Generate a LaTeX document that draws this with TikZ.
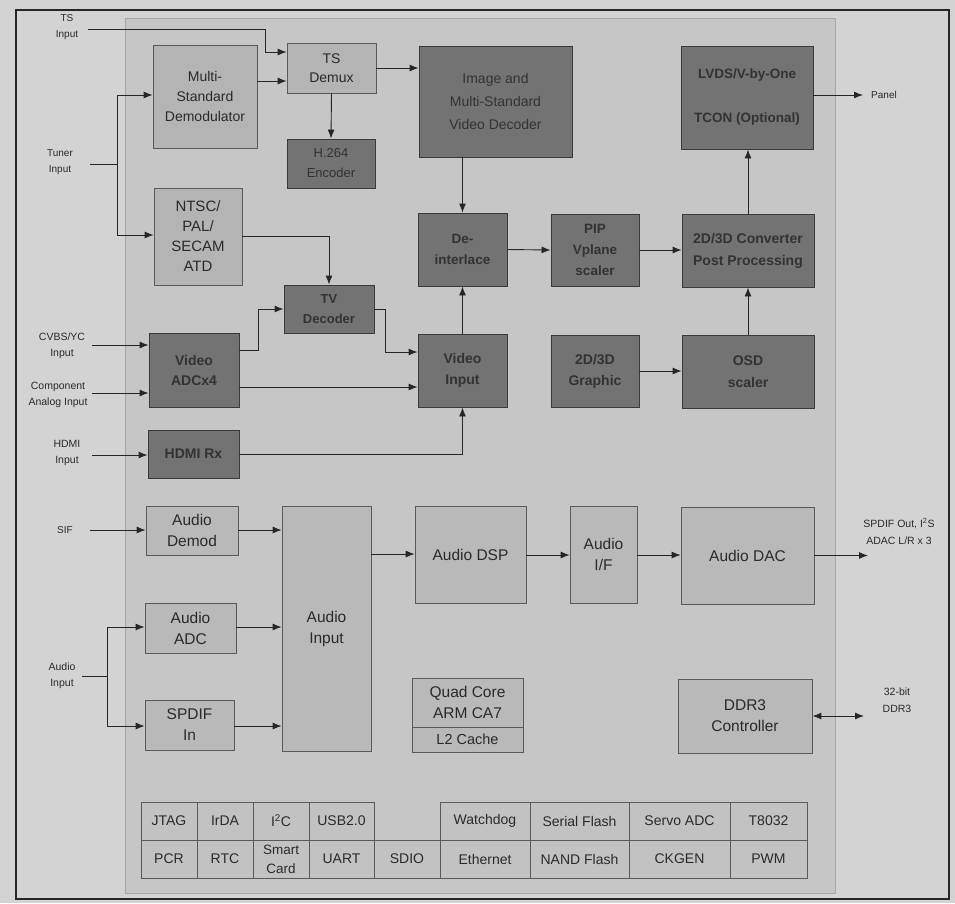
\documentclass[tikz,border=0pt]{standalone}
\usepackage{fontspec}
\setmainfont{Liberation Sans}
\usetikzlibrary{arrows.meta}
\definecolor{bgc}{HTML}{D3D3D3}
\definecolor{panelc}{HTML}{C7C6C7}
\definecolor{lightc}{HTML}{B4B4B4}
\definecolor{audc}{HTML}{B9B9B9}
\definecolor{cellc}{HTML}{C2C2C2}
\definecolor{darkc}{HTML}{737373}
\definecolor{darkedge}{HTML}{3A3A3A}
\definecolor{edgec}{HTML}{5A5A5A}
\definecolor{darktxt}{HTML}{333333}
\definecolor{txtc}{HTML}{2A2A2A}
\definecolor{linec}{HTML}{262626}
\begin{document}
\begin{tikzpicture}[x=1pt,y=-1pt,
  lbox/.style={draw=edgec, line width=0.8pt, fill=lightc, text=txtc, align=center, inner sep=1pt, font=\fontsize{14}{20}\selectfont},
  dbox/.style={draw=darkedge, line width=0.9pt, fill=darkc, text=darktxt, align=center, inner sep=1pt, font=\bfseries\fontsize{13.5}{21}\selectfont},
  abox/.style={lbox, fill=audc, font=\fontsize{15.5}{21}\selectfont},
  cell/.style={draw=edgec, line width=0.7pt, fill=cellc, text=txtc, align=center, inner sep=0pt, minimum height=38pt, font=\fontsize{14}{18}\selectfont},
  lbl/.style={align=center, text=txtc, inner sep=0pt, font=\fontsize{10}{16}\selectfont},
  arr/.style={-{Latex[length=9pt,width=7pt]}, line width=0.9pt, draw=linec},
  darr/.style={{Latex[length=9pt,width=7pt]}-{Latex[length=9pt,width=7pt]}, line width=0.9pt, draw=linec},
  ln/.style={line width=0.9pt, draw=linec}]
\useasboundingbox (0,0) rectangle (955,903);
\fill[bgc] (0,0) rectangle (955,903);
\draw[line width=1.1pt, draw=linec] (16,10) rectangle (949,899);
\draw[fill=panelc, draw=gray!70, line width=0.5pt] (125,18) rectangle (835,893);

% video section
\node[lbox, minimum width=104pt, minimum height=103pt] (demod) at (205,96.5) {Multi-\\Standard\\Demodulator};
\node[lbox, minimum width=89pt, minimum height=50pt, font=\fontsize{14}{19}\selectfont] (tsdemux) at (331.5,68) {TS\\Demux};
\node[dbox, minimum width=88pt, minimum height=49pt, font=\fontsize{13}{20}\selectfont] (h264) at (331,163.5) {H.264\\Encoder};
\node[dbox, minimum width=153pt, minimum height=111pt, font=\fontsize{14}{23}\selectfont] (vdec) at (495.5,101.5) {Image and\\Multi-Standard\\Video Decoder};
\node[dbox, minimum width=132pt, minimum height=103pt] (tcon) at (747,97.5) {LVDS/V-by-One\\[23pt]TCON (Optional)};
\node[lbox, minimum width=88pt, minimum height=97pt, font=\fontsize{15}{20}\selectfont] (ntsc) at (198,236.5) {NTSC/\\PAL/\\SECAM\\ATD};
\node[dbox, minimum width=89pt, minimum height=73pt] (deint) at (462.5,249.5) {De-\\interlace};
\node[dbox, minimum width=88pt, minimum height=72pt] (pip) at (595,250) {PIP\\Vplane\\scaler};
\node[dbox, minimum width=132pt, minimum height=73pt, font=\bfseries\fontsize{14}{22}\selectfont] (conv) at (748,250.5) {2D/3D Converter\\Post Processing};
\node[dbox, minimum width=90pt, minimum height=48pt, font=\bfseries\fontsize{13}{20}\selectfont] (tvdec) at (329,309) {TV\\Decoder};
\node[dbox, minimum width=90pt, minimum height=74pt, font=\bfseries\fontsize{14}{20}\selectfont] (vadc) at (194,370) {Video\\ADCx4};
\node[dbox, minimum width=89pt, minimum height=73pt, font=\bfseries\fontsize{14}{21}\selectfont] (vin) at (462.5,370.5) {Video\\Input};
\node[dbox, minimum width=88pt, minimum height=72pt, font=\bfseries\fontsize{14}{21}\selectfont] (g2d) at (595,371) {2D/3D\\Graphic};
\node[dbox, minimum width=132pt, minimum height=73pt, font=\bfseries\fontsize{14}{22}\selectfont] (osd) at (748,371.5) {OSD\\scaler};
\node[dbox, minimum width=91pt, minimum height=48pt, font=\bfseries\fontsize{14}{20}\selectfont] (hdmi) at (193.5,454) {HDMI Rx};

% audio section
\node[abox, minimum width=92pt, minimum height=49pt] (ademod) at (192,530.5) {Audio\\Demod};
\node[abox, minimum width=91pt, minimum height=50pt] (aadc) at (190.5,628) {Audio\\ADC};
\node[abox, minimum width=89pt, minimum height=50pt] (spdif) at (189.5,725) {SPDIF\\In};
\node[abox, minimum width=89pt, minimum height=245pt] (ain) at (326.5,628.5) {Audio\\Input};
\node[abox, minimum width=111pt, minimum height=97pt] (adsp) at (470.5,554.5) {Audio DSP};
\node[abox, minimum width=67pt, minimum height=97pt] (aif) at (603.5,554.5) {Audio\\I/F};
\node[abox, minimum width=133pt, minimum height=97pt] (adac) at (747.5,555.5) {Audio DAC};
\node[abox, minimum width=111pt, minimum height=49pt] (arm) at (467.5,702.5) {Quad Core\\ARM CA7};
\node[abox, minimum width=111pt, minimum height=25pt, font=\fontsize{14.5}{18}\selectfont] (l2) at (467.5,739.5) {L2 Cache};
\node[abox, minimum width=134pt, minimum height=74pt] (ddr) at (745,716) {DDR3\\Controller};

% peripheral table
\node[cell, minimum width=56pt] (jtag) at (169,821) {JTAG};
\node[cell, minimum width=56pt] (irda) at (225,821) {IrDA};
\node[cell, minimum width=56pt] (i2c) at (281,821) {I\textsuperscript{2}C};
\node[cell, minimum width=65pt] (usb) at (341.5,821) {USB2.0};
\node[cell, minimum width=90pt] (wdog) at (485,821) {Watchdog};
\node[cell, minimum width=99pt] (sflash) at (579.5,821) {Serial Flash};
\node[cell, minimum width=101pt] (servo) at (679.5,821) {Servo ADC};
\node[cell, minimum width=77pt] (t8032) at (768.5,821) {T8032};
\node[cell, minimum width=56pt] (pcr) at (169,859) {PCR};
\node[cell, minimum width=56pt] (rtc) at (225,859) {RTC};
\node[cell, minimum width=56pt, font=\fontsize{13.5}{19}\selectfont] (smart) at (281,859) {Smart\\Card};
\node[cell, minimum width=65pt] (uart) at (341.5,859) {UART};
\node[cell, minimum width=66pt] (sdio) at (407,859) {SDIO};
\node[cell, minimum width=90pt] (eth) at (485,859) {Ethernet};
\node[cell, minimum width=99pt] (nand) at (579.5,859) {NAND Flash};
\node[cell, minimum width=101pt] (ckgen) at (679.5,859) {CKGEN};
\node[cell, minimum width=77pt] (pwm) at (768.5,859) {PWM};

% outside labels
\node[lbl] (tslbl) at (67,27) {TS\\Input};
\node[lbl] (tunlbl) at (60,162) {Tuner\\Input};
\node[lbl, font=\fontsize{10.5}{16}\selectfont] (cvbslbl) at (62,346) {CVBS/YC\\Input};
\node[lbl, font=\fontsize{10.5}{16}\selectfont] (complbl) at (58,395) {Component\\Analog Input};
\node[lbl, font=\fontsize{10.5}{16}\selectfont] (hdmilbl) at (67,453) {HDMI\\Input};
\node[lbl] (siflbl) at (65,530) {SIF};
\node[lbl, font=\fontsize{10.5}{16}\selectfont] (audlbl) at (62,676) {Audio\\Input};
\node[lbl, anchor=west] (panellbl) at (871,95) {Panel};
\node[lbl, font=\fontsize{10.5}{17}\selectfont] (outlbl) at (899,531) {SPDIF Out, I\textsuperscript{2}S\\ADAC L/R x 3};
\node[lbl, font=\fontsize{10.5}{17}\selectfont] (ddrlbl) at (897,700) {32-bit\\DDR3};

% free ends
\coordinate (tsin) at (88,29);
\coordinate (tunin) at (90,164);
\coordinate (tunj) at (117,164);
\coordinate (cvbsin) at (92,345);
\coordinate (compin) at (92,393);
\coordinate (hdmiin) at (92,455);
\coordinate (sifin) at (90,530);
\coordinate (audin) at (82,676);
\coordinate (audj) at (107,676);
\coordinate (panelend) at (863,95);
\coordinate (outend) at (868,555.5);
\coordinate (ddrend) at (864,716);

% video connectors
\draw[arr] (tsin) -- (265,29) -- (265,52) -- (tsdemux.west |- 0,52);
\draw[arr] (demod.east |- 0,81) -- (tsdemux.west |- 0,81);
\draw[arr] (tsdemux.east) -- (vdec.west |- tsdemux.east);
\draw[arr] (tsdemux.south) -- (h264.north);
\draw[ln] (tunin) -- (tunj);
\draw[arr] (tunj) |- (demod.west |- 0,95);
\draw[arr] (tunj) |- (ntsc.west |- 0,235);
\draw[arr] (ntsc.east |- 0,236) -| (tvdec.north);
\draw[arr] (vadc.east |- 0,350) -- (258,350) |- (tvdec.west);
\draw[arr] (tvdec.east) -- (385,309) |- (vin.west |- 0,352);
\draw[arr] (vadc.east |- 0,387) -- (vin.west |- 0,387);
\draw[arr] (hdmi.east) -| (vin.south);
\draw[arr] (vin.north) -- (deint.south);
\draw[arr] (deint.north |- vdec.south) -- (deint.north);
\draw[arr] (deint.east) -- (pip.west);
\draw[arr] (pip.east) -- (conv.west |- pip.east);
\draw[arr] (g2d.east) -- (osd.west |- g2d.east);
\draw[arr] (osd.north) -- (conv.south);
\draw[arr] (conv.north) -- (conv.north |- tcon.south);
\draw[arr] (tcon.east |- panelend) -- (panelend);
\draw[arr] (cvbsin) -- (vadc.west |- cvbsin);
\draw[arr] (compin) -- (vadc.west |- compin);
\draw[arr] (hdmiin) -- (hdmi.west |- hdmiin);

% audio connectors
\draw[arr] (sifin) -- (ademod.west |- sifin);
\draw[arr] (ademod.east |- 0,530) -- (ain.west |- 0,530);
\draw[arr] (aadc.east |- 0,627) -- (ain.west |- 0,627);
\draw[arr] (spdif.east |- 0,726) -- (ain.west |- 0,726);
\draw[ln] (audin) -- (audj);
\draw[arr] (audj) |- (aadc.west |- 0,627);
\draw[arr] (audj) |- (spdif.west |- 0,726);
\draw[arr] (ain.east |- 0,554) -- (adsp.west |- 0,554);
\draw[arr] (adsp.east |- 0,555) -- (aif.west |- 0,555);
\draw[arr] (aif.east |- 0,555) -- (adac.west |- 0,555);
\draw[arr] (adac.east) -- (outend);
\draw[darr] (ddr.east) -- (ddrend);
\end{tikzpicture}
\end{document}
